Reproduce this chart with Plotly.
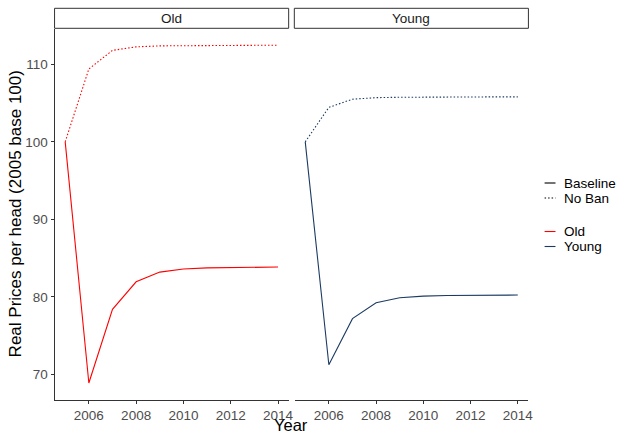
import plotly.graph_objects as go

# Simulated real prices per head, indexed to 2005 = 100
years = list(range(2005, 2015))
old_baseline = [100, 68.9, 78.4, 81.95, 83.2, 83.6, 83.75, 83.8, 83.82, 83.85]
old_noban = [100, 109.4, 111.8, 112.25, 112.38, 112.42, 112.44, 112.45, 112.45, 112.45]
young_baseline = [100, 71.25, 77.2, 79.25, 79.9, 80.1, 80.18, 80.22, 80.23, 80.24]
young_noban = [100, 104.45, 105.5, 105.7, 105.75, 105.78, 105.79, 105.8, 105.8, 105.8]

panels = ["Old", "Young"]
scenario_labels = ["Baseline", "No Ban"]
group_labels = ["Old", "Young"]
x_ticks = [2006, 2008, 2010, 2012, 2014]
y_ticks = [70, 80, 90, 100, 110]

RED = "#FF0000"
NAVY = "#1b3b63"
FONT = "Liberation Sans, Arial, sans-serif"
W, H = 622, 433

def px(x):
    return x / W

def py(y):
    return (H - y) / H

fig = go.Figure()

series = [
    ("x", "y", old_baseline, RED, "solid"),
    ("x", "y", old_noban, RED, "1.5px,2px"),
    ("x2", "y2", young_baseline, NAVY, "solid"),
    ("x2", "y2", young_noban, NAVY, "1.5px,2px"),
]
for xa, ya, vals, col, dash in series:
    fig.add_trace(go.Scatter(
        x=years, y=vals, xaxis=xa, yaxis=ya, mode="lines",
        line=dict(color=col, width=1.1, dash=dash),
        showlegend=False, hoverinfo="skip",
    ))

ydom = [py(399.5), py(28.5)]
yrange = [66.77, 114.62]
xrange = [2004.55, 2014.45]
tickfont = dict(family=FONT, size=13.5, color="#4D4D4D")

common_x = dict(range=xrange, tickvals=x_ticks, ticks="outside", ticklen=3,
                tickcolor="#333333", showline=True, linecolor="#333333", linewidth=1,
                showgrid=False, zeroline=False, tickfont=tickfont, fixedrange=True)

fig.update_layout(
    width=W, height=H,
    margin=dict(l=0, r=0, t=0, b=0),
    paper_bgcolor="white", plot_bgcolor="white",
    showlegend=False,
    xaxis=dict(domain=[px(55), px(291)], anchor="y", **common_x),
    xaxis2=dict(domain=[px(297), px(532.7)], anchor="y2", **common_x),
    yaxis=dict(domain=ydom, range=yrange, tickvals=y_ticks, ticks="outside", ticklen=3,
               tickcolor="#333333", showline=True, linecolor="#333333", linewidth=1,
               showgrid=False, zeroline=False, tickfont=tickfont, anchor="x"),
    yaxis2=dict(domain=ydom, range=yrange, matches="y", showticklabels=False, ticks="",
                showline=False, showgrid=False, zeroline=False, anchor="x2"),
)

# Facet strips
strip_boxes = [(55, 291), (296.7, 532.7)]
for (x0, x1), name in zip(strip_boxes, panels):
    fig.add_shape(type="rect", xref="paper", yref="paper",
                  x0=px(x0), x1=px(x1), y0=py(28.3), y1=py(8.3),
                  line=dict(color="#333333", width=1), fillcolor="white")
    fig.add_annotation(text=name, xref="paper", yref="paper",
                       x=px((x0 + x1) / 2), y=py(18.3), showarrow=False,
                       xanchor="center", yanchor="middle",
                       font=dict(family=FONT, size=13.5, color="#1A1A1A"))

# Axis titles
fig.add_annotation(text="Year", xref="paper", yref="paper", x=px(293.7), y=py(424.5),
                   showarrow=False, xanchor="center", yanchor="middle",
                   font=dict(family=FONT, size=16.5, color="black"))
fig.add_annotation(text="Real Prices per head (2005 base 100)", xref="paper", yref="paper",
                   x=px(15.5), y=py(214), textangle=-90, showarrow=False,
                   xanchor="center", yanchor="middle",
                   font=dict(family=FONT, size=17, color="black"))

# Legend: line type for scenario, colour for group
legend_items = [
    (scenario_labels[0], "black", "solid", 183),
    (scenario_labels[1], "black", "1.5px,2px", 198),
    (group_labels[0], RED, "solid", 231.5),
    (group_labels[1], NAVY, "solid", 246.5),
]
for label, col, dash, yc in legend_items:
    fig.add_shape(type="line", xref="paper", yref="paper",
                  x0=px(549), x1=px(560), y0=py(yc), y1=py(yc),
                  line=dict(color=col, width=1.1, dash=dash))
    fig.add_annotation(text=label, xref="paper", yref="paper", x=px(566.5), y=py(yc),
                       showarrow=False, xanchor="left", yanchor="middle",
                       font=dict(family=FONT, size=13.5, color="black"))

fig.write_html("out.html")
